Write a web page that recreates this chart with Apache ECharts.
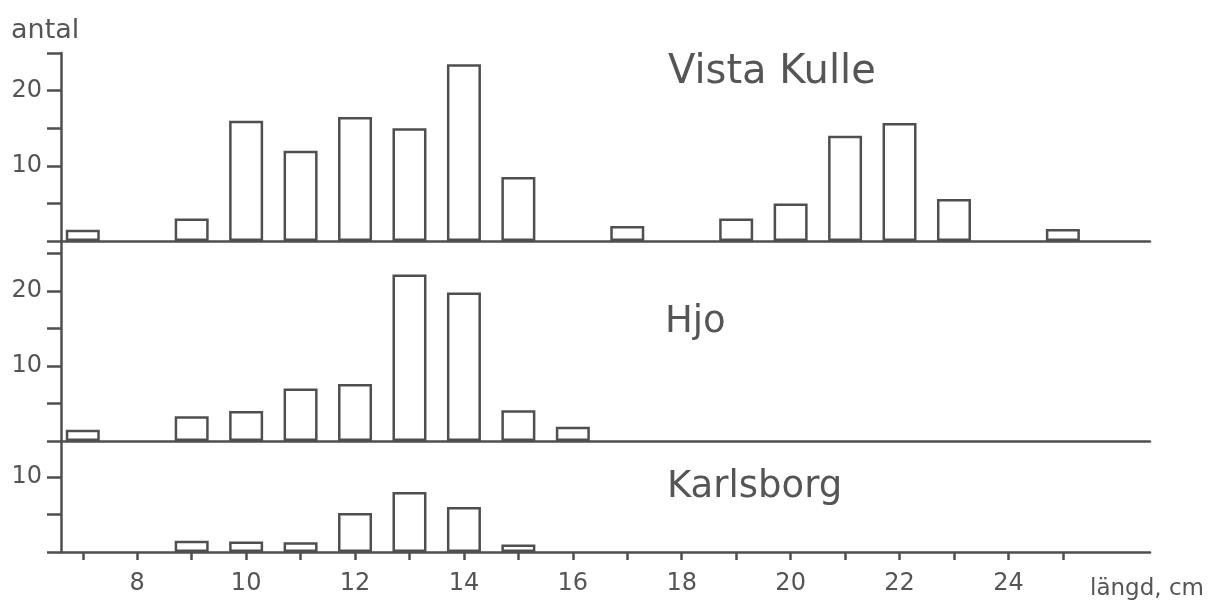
<!DOCTYPE html>
<html>
<head>
<meta charset="utf-8">
<script src="https://cdn.jsdelivr.net/npm/echarts@6/dist/echarts.min.js"></script>
<style>
  html, body { margin: 0; padding: 0; background: #fff; }
  #chart { width: 1218px; height: 604px; }
</style>
</head>
<body>
<div id="chart"></div>
<script>
// ---- data ----
const lengthCm   = [7, 8, 9, 10, 11, 12, 13, 14, 15, 16, 17, 18, 19, 20, 21, 22, 23, 24, 25];
const vistaKulle = [1.5, null, 3, 16, 12, 16.5, 15, 23.5, 8.5, null, 2, null, 3, 5, 14, 15.7, 5.6, null, 1.6];
const hjo        = [1.5, null, 3.3, 4, 7, 7.6, 22.2, 19.8, 4.1, 1.9, null, null, null, null, null, null, null, null, null];
const karlsborg  = [null, null, 1.5, 1.4, 1.3, 5.2, 8, 6, 1, null, null, null, null, null, null, null, null, null, null];
const panelNames = ['Vista Kulle', 'Hjo', 'Karlsborg'];
const xTickValues  = [7, 8, 9, 10, 11, 12, 13, 14, 15, 16, 17, 18, 19, 20, 21, 22, 23, 24, 25];
const xLabelValues = [8, 10, 12, 14, 16, 18, 20, 22, 24];
const yTicksVK   = [0, 5, 10, 15, 20, 25];
const yLabelsVK  = [10, 20];
const yTicksHjo  = [0, 5, 10, 15, 20, 25];
const yLabelsHjo = [10, 20];
const yTicksK    = [0, 5, 10];
const yLabelsK   = [10];
const yAxisTitle = 'antal';
const xAxisTitle = 'längd, cm';

// ---- styling ----
const INK = '#4f4f4f';
const TXT = '#555';
const FONT = 'DejaVu Sans';
const X_MIN = 6.6, X_MAX = 26.6;

function pairs(vals) {
  const out = [];
  lengthCm.forEach((x, i) => { if (vals[i] != null) out.push([x, vals[i]]); });
  return out;
}

const grids = [
  { left: 61, right: 68, top: 53,  height: 188 },
  { left: 61, right: 68, top: 241, height: 200 },
  { left: 61, right: 68, top: 441, height: 111 }
];

function xAxis(idx, bottom) {
  return {
    type: 'value', gridIndex: idx, min: X_MIN, max: X_MAX,
    axisLine: { show: true, onZero: false, lineStyle: { color: INK, width: 2.5 } },
    splitLine: { show: false },
    axisTick: bottom ? { show: true, length: 8, customValues: xTickValues, lineStyle: { color: INK, width: 2.5 } } : { show: false },
    axisLabel: bottom ? { show: true, customValues: xLabelValues, margin: 20, color: TXT, fontFamily: FONT, fontSize: 24 } : { show: false }
  };
}
function yAxis(idx, max, ticks, labels) {
  return {
    type: 'value', gridIndex: idx, min: 0, max: max,
    axisLine: { show: true, lineStyle: { color: INK, width: 2.5 } },
    splitLine: { show: false },
    axisTick: { show: true, length: 14, customValues: ticks, lineStyle: { color: INK, width: 2.5 } },
    axisLabel: { show: true, customValues: labels, margin: 19, color: TXT, fontFamily: FONT, fontSize: 24 }
  };
}
function barSeries(idx, vals) {
  return {
    type: 'bar', xAxisIndex: idx, yAxisIndex: idx, barWidth: 34,
    data: pairs(vals),
    itemStyle: { color: '#fff', borderColor: INK, borderWidth: 2.5 },
    silent: true
  };
}

const option = {
  animation: false,
  backgroundColor: '#fff',
  grid: grids,
  xAxis: [xAxis(0, false), xAxis(1, false), xAxis(2, true)],
  yAxis: [
    yAxis(0, 25, yTicksVK, yLabelsVK),
    yAxis(1, 200 / 7.5, yTicksHjo, yLabelsHjo),
    yAxis(2, 111 / 7.5, yTicksK, yLabelsK)
  ],
  series: [barSeries(0, vistaKulle), barSeries(1, hjo), barSeries(2, karlsborg)],
  graphic: [
    { type: 'text', x: 668, y: 73,  style: { text: panelNames[0], font: '40px "DejaVu Sans"', fill: TXT, verticalAlign: 'middle' } },
    { type: 'text', x: 665, y: 322, style: { text: panelNames[1], font: '37px "DejaVu Sans"', fill: TXT, verticalAlign: 'middle' } },
    { type: 'text', x: 667, y: 487, style: { text: panelNames[2], font: '37px "DejaVu Sans"', fill: TXT, verticalAlign: 'middle' } },
    { type: 'text', x: 11,  y: 31,  style: { text: yAxisTitle, font: '27px "DejaVu Sans"', fill: TXT, verticalAlign: 'middle' } },
    { type: 'text', x: 1090, y: 589, style: { text: xAxisTitle, font: '23px "DejaVu Sans"', fill: TXT, verticalAlign: 'middle' } }
  ]
};

const chart = echarts.init(document.getElementById('chart'), null, { renderer: 'canvas' });
chart.setOption(option);
</script>
</body>
</html>
